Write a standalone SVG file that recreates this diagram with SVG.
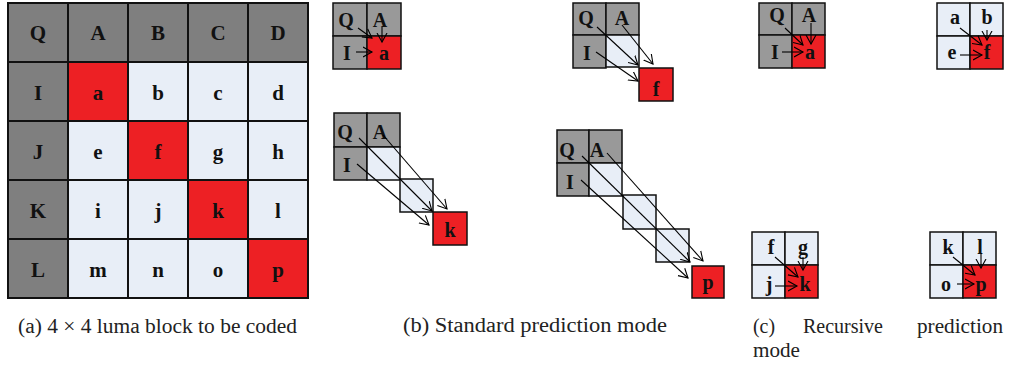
<svg xmlns="http://www.w3.org/2000/svg" width="1009" height="366" viewBox="0 0 1009 366">
<style>
.g1{fill:#7f7f7f;stroke:#111;stroke-width:2}
.g2{fill:#999;stroke:#111;stroke-width:1.5}
.lb{fill:#e8eef7;stroke:#111;stroke-width:2}
.lb2{fill:#e8eef7;stroke:#111;stroke-width:1.5}
.rd{fill:#ed2024;stroke:#111;stroke-width:2}
.rd2{fill:#ed2024;stroke:#111;stroke-width:1.5}
.t{font-family:"Liberation Serif",serif;font-weight:bold;font-size:21px;fill:#111;text-anchor:middle}
.ts{font-family:"Liberation Serif",serif;font-weight:bold;font-size:20px;fill:#111;text-anchor:middle}
.cap{font-family:"Liberation Serif",serif;font-size:20px;fill:#222}
.ar{stroke:#000;stroke-width:1.1;fill:none;marker-end:url(#ah)}
</style>
<defs>
<marker id="ah" markerUnits="userSpaceOnUse" markerWidth="12" markerHeight="12" refX="9" refY="5" orient="auto" viewBox="0 0 12 10">
<path d="M0,0 L9,5 L0,10" fill="none" stroke="#000" stroke-width="1.1"/>
</marker>
</defs>

<g id="panel-a">
<g id="a-row0">
<rect class="g1" x="8" y="3" width="60" height="59"/><text class="t" x="38" y="40">Q</text>
<rect class="g1" x="68" y="3" width="60" height="59"/><text class="t" x="98" y="40">A</text>
<rect class="g1" x="128" y="3" width="60" height="59"/><text class="t" x="158" y="40">B</text>
<rect class="g1" x="188" y="3" width="60" height="59"/><text class="t" x="218" y="40">C</text>
<rect class="g1" x="248" y="3" width="60" height="59"/><text class="t" x="278" y="40">D</text>
</g>
<g id="a-row1">
<rect class="g1" x="8" y="62" width="60" height="59"/><text class="t" x="38" y="100">I</text>
<rect class="rd" x="68" y="62" width="60" height="59"/><text class="t" x="98" y="100">a</text>
<rect class="lb" x="128" y="62" width="60" height="59"/><text class="t" x="158" y="100">b</text>
<rect class="lb" x="188" y="62" width="60" height="59"/><text class="t" x="218" y="100">c</text>
<rect class="lb" x="248" y="62" width="60" height="59"/><text class="t" x="278" y="100">d</text>
</g>
<g id="a-row2">
<rect class="g1" x="8" y="121" width="60" height="59"/><text class="t" x="38" y="159">J</text>
<rect class="lb" x="68" y="121" width="60" height="59"/><text class="t" x="98" y="159">e</text>
<rect class="rd" x="128" y="121" width="60" height="59"/><text class="t" x="158" y="159">f</text>
<rect class="lb" x="188" y="121" width="60" height="59"/><text class="t" x="218" y="159">g</text>
<rect class="lb" x="248" y="121" width="60" height="59"/><text class="t" x="278" y="159">h</text>
</g>
<g id="a-row3">
<rect class="g1" x="8" y="180" width="60" height="59"/><text class="t" x="38" y="218">K</text>
<rect class="lb" x="68" y="180" width="60" height="59"/><text class="t" x="98" y="218">i</text>
<rect class="lb" x="128" y="180" width="60" height="59"/><text class="t" x="158" y="218">j</text>
<rect class="rd" x="188" y="180" width="60" height="59"/><text class="t" x="218" y="218">k</text>
<rect class="lb" x="248" y="180" width="60" height="59"/><text class="t" x="278" y="218">l</text>
</g>
<g id="a-row4">
<rect class="g1" x="8" y="239" width="60" height="59"/><text class="t" x="38" y="277">L</text>
<rect class="lb" x="68" y="239" width="60" height="59"/><text class="t" x="98" y="277">m</text>
<rect class="lb" x="128" y="239" width="60" height="59"/><text class="t" x="158" y="277">n</text>
<rect class="lb" x="188" y="239" width="60" height="59"/><text class="t" x="218" y="277">o</text>
<rect class="rd" x="248" y="239" width="60" height="59"/><text class="t" x="278" y="277">p</text>
</g>
</g>

<g id="std-a">
<rect class="g2" x="333" y="3" width="34" height="33"/><text class="ts" x="346" y="27">Q</text>
<rect class="g2" x="367" y="3" width="34" height="33"/><text class="ts" x="380" y="27">A</text>
<rect class="g2" x="333" y="36" width="34" height="33"/><text class="ts" x="347" y="60">I</text>
<rect class="rd2" x="367" y="36" width="34" height="33"/><text class="ts" x="384" y="60">a</text>
</g>

<g id="std-f">
<rect class="g2" x="573" y="3" width="33" height="32"/><text class="ts" x="586" y="25">Q</text>
<rect class="g2" x="606" y="3" width="33" height="32"/><text class="ts" x="622" y="25">A</text>
<rect class="g2" x="573" y="35" width="33" height="33"/><text class="ts" x="587" y="60">I</text>
<rect class="lb2" x="606" y="35" width="33" height="32"/>
<rect class="rd2" x="639" y="68" width="34" height="33"/><text class="ts" x="656" y="96">f</text>
</g>

<g id="std-k">
<rect class="g2" x="334" y="113" width="33" height="34"/><text class="ts" x="345" y="139">Q</text>
<rect class="g2" x="367" y="113" width="33" height="34"/><text class="ts" x="380" y="139">A</text>
<rect class="g2" x="334" y="147" width="33" height="33"/><text class="ts" x="347" y="172">I</text>
<rect class="lb2" x="367" y="147" width="33" height="33"/>
<rect class="lb2" x="400" y="179" width="33" height="33"/>
<rect class="rd2" x="433" y="212" width="34" height="33"/><text class="ts" x="450" y="237">k</text>
</g>

<g id="std-p">
<rect class="g2" x="557" y="130" width="32" height="33"/><text class="ts" x="567" y="157">Q</text>
<rect class="g2" x="589" y="130" width="33" height="33"/><text class="ts" x="597" y="157">A</text>
<rect class="g2" x="557" y="163" width="32" height="33"/><text class="ts" x="570" y="189">I</text>
<rect class="lb2" x="589" y="163" width="33" height="33"/>
<rect class="lb2" x="623" y="195" width="33" height="34"/>
<rect class="lb2" x="656" y="229" width="33" height="33"/>
<rect class="rd2" x="692" y="266" width="32" height="32"/><text class="ts" x="708" y="289">p</text>
</g>

<g id="rec-a">
<rect class="g2" x="759" y="3" width="33" height="32"/><text class="ts" x="777" y="22">Q</text>
<rect class="g2" x="792" y="3" width="33" height="32"/><text class="ts" x="809" y="22">A</text>
<rect class="g2" x="759" y="35" width="33" height="33"/><text class="ts" x="775" y="59">I</text>
<rect class="rd2" x="792" y="35" width="33" height="33"/><text class="ts" x="810" y="59">a</text>
</g>

<g id="rec-f">
<rect class="lb2" x="937" y="3" width="33" height="33"/><text class="ts" x="955" y="24">a</text>
<rect class="lb2" x="970" y="3" width="33" height="33"/><text class="ts" x="987" y="24">b</text>
<rect class="lb2" x="937" y="36" width="33" height="33"/><text class="ts" x="952" y="59">e</text>
<rect class="rd2" x="970" y="36" width="33" height="33"/><text class="ts" x="987" y="59">f</text>
</g>

<g id="rec-k">
<rect class="lb2" x="752" y="232" width="33" height="33"/><text class="ts" x="771" y="254">f</text>
<rect class="lb2" x="785" y="232" width="33" height="33"/><text class="ts" x="803" y="254">g</text>
<rect class="lb2" x="752" y="265" width="33" height="33"/><text class="ts" x="769" y="291">j</text>
<rect class="rd2" x="785" y="265" width="33" height="33"/><text class="ts" x="805" y="291">k</text>
</g>

<g id="rec-p">
<rect class="lb2" x="930" y="232" width="33" height="33"/><text class="ts" x="948" y="254">k</text>
<rect class="lb2" x="963" y="232" width="33" height="33"/><text class="ts" x="980" y="254">l</text>
<rect class="lb2" x="930" y="265" width="33" height="33"/><text class="ts" x="946" y="291">o</text>
<rect class="rd2" x="963" y="265" width="33" height="33"/><text class="ts" x="981" y="291">p</text>
</g>

<g id="connectors">
<line class="ar" x1="358" y1="28" x2="372" y2="38"/>
<line class="ar" x1="382" y1="27" x2="382" y2="42"/>
<line class="ar" x1="356" y1="52" x2="372" y2="52"/>

<line class="ar" x1="597" y1="27" x2="638" y2="65"/>
<line class="ar" x1="622" y1="25" x2="653" y2="64"/>
<line class="ar" x1="596" y1="52" x2="638" y2="81"/>

<line class="ar" x1="359" y1="138" x2="432" y2="211"/>
<line class="ar" x1="383" y1="135" x2="447" y2="209"/>
<line class="ar" x1="357" y1="164" x2="429" y2="225"/>

<line class="ar" x1="582" y1="156" x2="690" y2="262"/>
<line class="ar" x1="607" y1="153" x2="703" y2="261"/>
<line class="ar" x1="581" y1="180" x2="688" y2="278"/>

<line class="ar" x1="785" y1="28" x2="803" y2="45"/>
<line class="ar" x1="811" y1="23" x2="811" y2="44"/>
<line class="ar" x1="782" y1="52" x2="803" y2="52"/>

<line class="ar" x1="960" y1="28" x2="982" y2="45"/>
<line class="ar" x1="987" y1="30" x2="987" y2="40"/>
<line class="ar" x1="960" y1="55" x2="982" y2="55"/>

<line class="ar" x1="775" y1="257" x2="798" y2="277"/>
<line class="ar" x1="803" y1="257" x2="803" y2="270"/>
<line class="ar" x1="775" y1="286" x2="797" y2="286"/>

<line class="ar" x1="953" y1="257" x2="975" y2="275"/>
<line class="ar" x1="981" y1="253" x2="981" y2="268"/>
<line class="ar" x1="957" y1="284" x2="974" y2="284"/>
</g>

<g id="captions">
<text class="cap" x="18" y="333" textLength="279" lengthAdjust="spacingAndGlyphs">(a)  4 × 4 luma block to be coded</text>
<text class="cap" x="403" y="332" textLength="264" lengthAdjust="spacingAndGlyphs">(b)  Standard prediction mode</text>
<text class="cap" x="753" y="333" textLength="22" lengthAdjust="spacingAndGlyphs">(c)</text>
<text class="cap" x="803" y="333" textLength="80" lengthAdjust="spacingAndGlyphs">Recursive</text>
<text class="cap" x="917" y="333" textLength="86" lengthAdjust="spacingAndGlyphs">prediction</text>
<text class="cap" x="753" y="357" textLength="47" lengthAdjust="spacingAndGlyphs">mode</text>
</g>
</svg>
